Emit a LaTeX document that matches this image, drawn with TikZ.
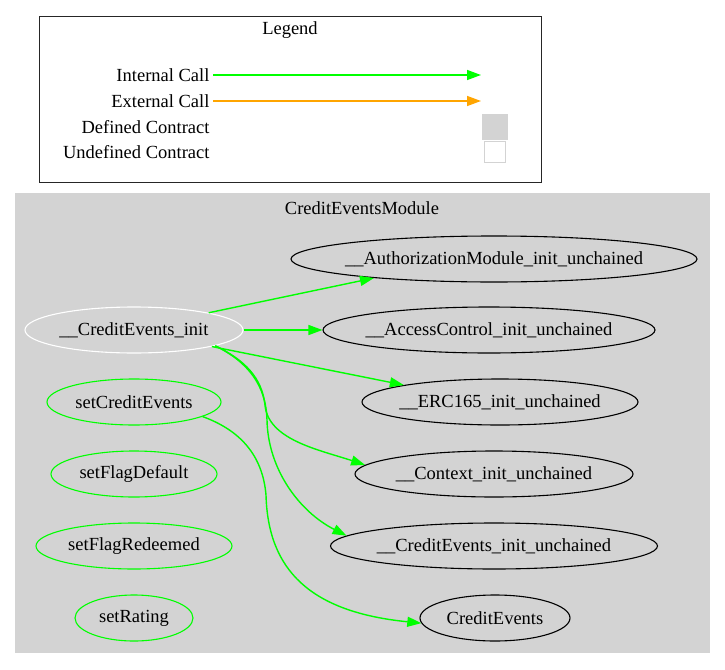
\documentclass[tikz,border=0pt]{standalone}
\usepackage{fontspec}
\setmainfont{Liberation Serif}
\usetikzlibrary{shapes.geometric, arrows.meta, positioning, calc}
\definecolor{callgreen}{HTML}{00FF00}
\definecolor{extorange}{HTML}{FFA500}
\definecolor{modgray}{HTML}{D3D3D3}
\newcommand{\fname}[1]{\makebox[0pt]{#1}}

\begin{document}
\begin{tikzpicture}[x=1pt, y=-1pt, font=\fontsize{18.5}{22}\selectfont,
  func/.style={ellipse, draw, line width=1.1pt, inner sep=0pt, minimum height=46pt, minimum width=#1},
  call/.style={draw=callgreen, line width=1.4pt, -{Triangle[length=14pt, width=10pt, fill=callgreen]}},
  ]
% canvas
\useasboundingbox[fill=white] (0,0) rectangle (725,669);
% Legend
\draw[line width=0.9pt, black!85] (39,16) rectangle (541,182);
\node (legend) at (290,30) {Legend};
\node[anchor=east] (intcall) at (213,75) {Internal Call};
\node[anchor=east] (extcall) at (213,101) {External Call};
\node[anchor=east] (defc) at (213,127) {Defined Contract};
\node[anchor=east] (undefc) at (213,152) {Undefined Contract};
\coordinate (intend) at (481,75);
\coordinate (extend) at (481,101);
\draw[call] (intcall.east) -- (intend);
\draw[call, draw=extorange, -{Triangle[length=14pt, width=10pt, fill=extorange]}] (extcall.east) -- (extend);
\node[fill=modgray, inner sep=0pt, minimum size=26pt] (defbox) at (495,127) {};
\node[draw=modgray, fill=white, line width=1.2pt, inner sep=0pt, minimum size=21pt] (undefbox) at (495,152) {};
% Module cluster
\fill[modgray] (15,193) rectangle (710,653);
\node (module) at (362,208) {CreditEventsModule};
% functions of the module
\node[func=218, draw=white] (ceinit) at (134,330) {\fname{\_\_CreditEvents\_init}};
\node[func=174, draw=callgreen] (setce) at (134,402) {\fname{setCreditEvents}};
\node[func=166, draw=callgreen] (setfd) at (134,474) {\fname{setFlagDefault}};
\node[func=196, draw=callgreen] (setfr) at (134,546) {\fname{setFlagRedeemed}};
\node[func=118, draw=callgreen] (setr) at (134,618) {\fname{setRating}};
% called functions
\node[func=406] (authinit) at (494,259) {\fname{\_\_AuthorizationModule\_init\_unchained}};
\node[func=332] (acinit) at (489,330) {\fname{\_\_AccessControl\_init\_unchained}};
\node[func=276] (ercinit) at (500,402) {\fname{\_\_ERC165\_init\_unchained}};
\node[func=278] (ctxinit) at (494,474) {\fname{\_\_Context\_init\_unchained}};
\node[func=327] (ceunch) at (494,546) {\fname{\_\_CreditEvents\_init\_unchained}};
\node[func=150] (credev) at (495,618) {\fname{CreditEvents}};
% internal calls
\draw[call] (ceinit.13) -- (authinit.189);
\draw[call] (ceinit) -- (acinit);
\draw[call] (ceinit.-12) -- (ercinit.170);
\draw[call] (ceinit.-11.5) .. controls (245,360) and (262,378) .. (265,405)
  .. controls (268,440) and (320,450) .. (ctxinit.176);
\draw[call] (ceinit.-11) .. controls (248,362) and (266,385) .. (267,420)
  .. controls (268,470) and (300,512) .. (ceunch.176.5);
\draw[call] (setce.-12) .. controls (245,432) and (263,460) .. (266,495)
  .. controls (268,570) and (310,612) .. (credev.184);
\end{tikzpicture}
\end{document}
